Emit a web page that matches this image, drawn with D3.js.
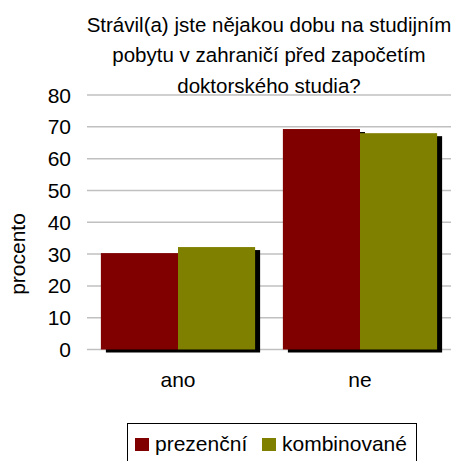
<!DOCTYPE html>
<html lang="cs">
    <head>
        <meta charset="utf-8">
        <title>Studijní pobyt</title>
        <script src="https://d3js.org/d3.v7.min.js"></script>
        <style>
            body { margin: 0; background: #fff; }
            text { font-family: "Liberation Sans", Arial, sans-serif; fill: #000; }
        </style>
    </head>
    <body>
        <script type="text/javascript">

            // data
            var categories = ["ano", "ne"];
            var seriesNames = ["prezenční", "kombinované"];
            var prezencni = [30.3, 69.3];
            var kombinovane = [32.2, 68.0];
            var yTicks = [0, 10, 20, 30, 40, 50, 60, 70, 80];
            var titleLines = ["Strávil(a) jste nějakou dobu na studijním",
                              "pobytu v zahraničí před započetím",
                              "doktorského studia?"];
            var colors = ["#800000", "#808000"];

            var w = 473;
            var h = 461;
            var plotLeft = 87, plotRight = 451, plotTop = 95, plotBottom = 349.5;

            var rows = [];
            categories.forEach(function(c, i) {
                rows.push({cat: c, key: seriesNames[0], value: prezencni[i], s: 0});
                rows.push({cat: c, key: seriesNames[1], value: kombinovane[i], s: 1});
            });

            var xScale = d3.scaleBand()
                .domain(categories)
                .range([plotLeft, plotRight])
                .paddingInner(0)
                .paddingOuter(0);

            var xInner = d3.scaleBand()
                .domain(seriesNames)
                .range([0, xScale.bandwidth()])
                .paddingOuter(0.18);

            var yScale = d3.scaleLinear()
                .domain([0, 80])
                .range([plotBottom, plotTop]);

            var svg = d3.select("body")
                .append("svg")
                .attr("width", w)
                .attr("height", h);

            // gridlines
            svg.selectAll("line.grid")
                .data(yTicks)
                .enter()
                .append("line")
                .attr("class", "grid")
                .attr("x1", plotLeft)
                .attr("x2", plotRight)
                .attr("y1", function(d) { return yScale(d); })
                .attr("y2", function(d) { return yScale(d); })
                .attr("stroke", "#c0c0c0")
                .attr("stroke-width", 1.5);

            // y tick labels
            svg.selectAll("text.ytick")
                .data(yTicks)
                .enter()
                .append("text")
                .attr("class", "ytick")
                .attr("x", 71)
                .attr("y", function(d) { return yScale(d); })
                .attr("dy", "0.36em")
                .attr("text-anchor", "end")
                .attr("font-size", "21px")
                .text(function(d) { return d; });

            // shadows
            svg.selectAll("rect.shadow")
                .data(rows)
                .enter()
                .append("rect")
                .attr("class", "shadow")
                .attr("x", function(d) { return xScale(d.cat) + xInner(d.key) + 5; })
                .attr("y", function(d) { return yScale(d.value) + 3; })
                .attr("width", xInner.bandwidth())
                .attr("height", function(d) { return plotBottom - yScale(d.value); })
                .attr("fill", "#000");

            // bars
            svg.selectAll("rect.bar")
                .data(rows)
                .enter()
                .append("rect")
                .attr("class", "bar")
                .attr("x", function(d) { return xScale(d.cat) + xInner(d.key); })
                .attr("y", function(d) { return yScale(d.value); })
                .attr("width", xInner.bandwidth())
                .attr("height", function(d) { return plotBottom - yScale(d.value); })
                .attr("fill", function(d) { return colors[d.s]; });

            // category labels
            svg.selectAll("text.xcat")
                .data(categories)
                .enter()
                .append("text")
                .attr("class", "xcat")
                .attr("x", function(d) { return xScale(d) + xScale.bandwidth() / 2; })
                .attr("y", 387)
                .attr("text-anchor", "middle")
                .attr("font-size", "21px")
                .text(function(d) { return d; });

            // title
            svg.selectAll("text.title")
                .data(titleLines)
                .enter()
                .append("text")
                .attr("class", "title")
                .attr("x", 269)
                .attr("y", function(d, i) { return 31.5 + i * 30.7; })
                .attr("text-anchor", "middle")
                .attr("font-size", "20.5px")
                .text(function(d) { return d; });

            // y axis title
            svg.append("text")
                .attr("transform", "translate(25,254) rotate(-90)")
                .attr("text-anchor", "middle")
                .attr("font-size", "21px")
                .text("procento");

            // legend
            var legend = svg.append("g");
            legend.append("rect")
                .attr("x", 127.5)
                .attr("y", 423.5)
                .attr("width", 289)
                .attr("height", 45)
                .attr("fill", "none")
                .attr("stroke", "#000")
                .attr("stroke-width", 1);

            var legendX = [135, 262];
            seriesNames.forEach(function(name, i) {
                legend.append("rect")
                    .attr("x", legendX[i])
                    .attr("y", 438)
                    .attr("width", 14)
                    .attr("height", 13)
                    .attr("fill", colors[i]);
                legend.append("text")
                    .attr("x", legendX[i] + 20)
                    .attr("y", 451)
                    .attr("font-size", "21px")
                    .text(name);
            });

        </script>
    </body>
</html>
